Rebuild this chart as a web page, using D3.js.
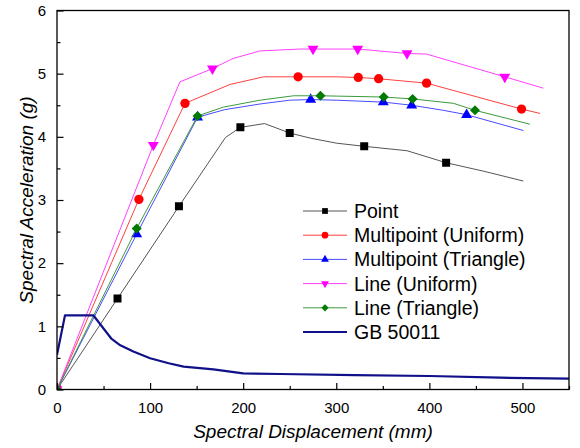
<!DOCTYPE html>
<html>
<head>
<meta charset="utf-8">
<script src="https://cdn.jsdelivr.net/npm/d3@7/dist/d3.min.js"></script>
<style>
  html, body { margin: 0; padding: 0; background: #fff; }
  svg { display: block; font-family: Arial, "Liberation Sans", sans-serif; }
</style>
</head>
<body>
<svg id="chart" width="580" height="448"></svg>
<script>
// Spectral displacement (mm) / spectral acceleration (g) curves
const pointCurve = [[0,0],[65,1.44],[131,2.90],[181,3.99],[197,4.15],[223,4.21],[250,4.06],[272,3.98],[300,3.90],[330,3.85],[376,3.78],[418,3.59],[460,3.45],[501,3.30]];
const pointMarks = [[0,0],[65,1.44],[131,2.90],[197,4.15],[250,4.06],[330,3.85],[418,3.59]];

const mpUniformCurve = [[0,0],[88,3.01],[137.5,4.53],[186,4.83],[222,4.95],[259,4.95],[300,4.95],[323.6,4.94],[345.5,4.92],[397,4.85],[499,4.44],[519,4.37]];
const mpUniformMarks = [[0,0],[88,3.01],[137.5,4.53],[259,4.95],[323.6,4.94],[345.5,4.92],[397,4.85],[499,4.44]];

const mpTriangleCurve = [[0,0],[85.6,2.46],[151,4.31],[180,4.43],[218,4.52],[250,4.58],[272.5,4.59],[300,4.58],[350.5,4.55],[381,4.50],[415,4.42],[440,4.35],[501,4.10]];
const mpTriangleMarks = [[0,0],[85.6,2.46],[151,4.31],[272.5,4.59],[350.5,4.55],[381,4.50],[440,4.35]];

const lnUniformCurve = [[0,0],[103.5,3.87],[132,4.87],[167,5.08],[189,5.24],[218,5.36],[261,5.39],[275,5.39],[323,5.39],[376,5.32],[397,5.31],[481,4.95],[522.4,4.77]];
const lnUniformMarks = [[0,0],[103.5,3.87],[167,5.08],[275,5.39],[323,5.39],[376,5.32],[481,4.95]];

const lnTriangleCurve = [[0,0],[85.6,2.55],[151,4.33],[178.6,4.47],[218,4.58],[254,4.65],[283,4.65],[351,4.63],[382,4.60],[426,4.53],[449,4.42],[508,4.20]];
const lnTriangleMarks = [[0,0],[85.6,2.55],[151,4.33],[283,4.65],[351,4.63],[382,4.60],[449,4.42]];

const gbCurve = [[0,0.55],[8.6,1.175],[39,1.175],[58.7,0.80],[68,0.70],[82,0.60],[100,0.494],[120,0.415],[136,0.361],[168,0.32],[200,0.256],[240,0.245],[320,0.229],[400,0.214],[476,0.187],[550,0.171]];

const seriesNames = ["Point","Multipoint (Uniform)","Multipoint (Triangle)","Line (Uniform)","Line (Triangle)","GB 50011"];
const xMajorTicks = [0,100,200,300,400,500];
const xMinorTicks = [50,150,250,350,450,550];
const yMajorTicks = [0,1,2,3,4,5,6];
const yMinorTicks = [0.5,1.5,2.5,3.5,4.5,5.5];

const svg = d3.select("#chart");
const L = 57, R = 569, T = 10.5, B = 389.5;
const x = d3.scaleLinear().domain([0,550]).range([L,R]);
const y = d3.scaleLinear().domain([0,6]).range([B,T]);

// clip region for the plot area
svg.append("defs").append("clipPath").attr("id","plotclip")
  .append("rect").attr("x",L).attr("y",T).attr("width",R-L).attr("height",B-T);

const series = [
  {name: seriesNames[0], curve: pointCurve, marks: pointMarks, line: "#555555", fill: "#000000", sym: "square"},
  {name: seriesNames[1], curve: mpUniformCurve, marks: mpUniformMarks, line: "#ff4040", fill: "#ff0000", sym: "circle"},
  {name: seriesNames[2], curve: mpTriangleCurve, marks: mpTriangleMarks, line: "#4a4aff", fill: "#0000ff", sym: "up"},
  {name: seriesNames[3], curve: lnUniformCurve, marks: lnUniformMarks, line: "#ff40ff", fill: "#ff00ff", sym: "down"},
  {name: seriesNames[4], curve: lnTriangleCurve, marks: lnTriangleMarks, line: "#3c9a3c", fill: "#007a00", sym: "diamond"},
  {name: seriesNames[5], curve: gbCurve, marks: [], line: "#10108a", fill: null, sym: null, width: 2.2}
];

function symbolPath(kind, scale) {
  const s = scale || 1;
  switch (kind) {
    case "square": return {d: d3.symbol(d3.symbolSquare, 64*s*s)(), rot: 0};
    case "circle": return {d: d3.symbol(d3.symbolCircle, 68*s*s)(), rot: 0};
    case "up": return {d: d3.symbol(d3.symbolTriangle, 52*s*s)(), rot: 0};
    case "down": return {d: d3.symbol(d3.symbolTriangle, 52*s*s)(), rot: 180};
    case "diamond": return {d: d3.symbol(d3.symbolSquare, 50*s*s)(), rot: 45};
  }
}

const lineGen = d3.line().x(d => x(d[0])).y(d => y(d[1]));
const plot = svg.append("g").attr("clip-path","url(#plotclip)");

series.forEach(s => {
  plot.append("path").datum(s.curve)
    .attr("d", lineGen)
    .attr("fill","none")
    .attr("stroke", s.line)
    .attr("stroke-width", s.width || 1)
    .attr("stroke-linejoin","round");
  if (s.sym) {
    const sp = symbolPath(s.sym, 1);
    plot.selectAll(null).data(s.marks).enter().append("path")
      .attr("d", sp.d)
      .attr("transform", d => `translate(${x(d[0])},${y(d[1])}) rotate(${sp.rot})`)
      .attr("fill", s.fill);
  }
});

// axes with inward ticks
const axisStyle = g => {
  g.select(".domain").remove();
  g.selectAll("line").attr("stroke","#000").attr("stroke-width",1.2);
  g.selectAll("text").attr("fill","#000").style("font-size","15px").style("font-family","Arial, 'Liberation Sans', sans-serif");
};
svg.append("g").attr("transform",`translate(0,${B})`)
  .call(d3.axisBottom(x).tickValues(xMajorTicks).tickSizeInner(-6.5).tickSizeOuter(0).tickPadding(13).tickFormat(d3.format("d")))
  .call(axisStyle);
svg.append("g").attr("transform",`translate(0,${B})`)
  .call(d3.axisBottom(x).tickValues(xMinorTicks).tickSizeInner(-3.5).tickSizeOuter(0).tickFormat(""))
  .call(axisStyle);
svg.append("g").attr("transform",`translate(${L},0)`)
  .call(d3.axisLeft(y).tickValues(yMajorTicks).tickSizeInner(-6.5).tickSizeOuter(0).tickPadding(11).tickFormat(d3.format("d")))
  .call(axisStyle);
svg.append("g").attr("transform",`translate(${L},0)`)
  .call(d3.axisLeft(y).tickValues(yMinorTicks).tickSizeInner(-3.5).tickSizeOuter(0).tickFormat(""))
  .call(axisStyle);

// frame
svg.append("rect").attr("x",L).attr("y",T).attr("width",R-L).attr("height",B-T)
  .attr("fill","none").attr("stroke","#000").attr("stroke-width",1.3);

// axis titles
svg.append("text").attr("x",(L+R)/2).attr("y",438).attr("text-anchor","middle")
  .style("font-size","19px").style("font-style","italic").text("Spectral Displacement (mm)");
svg.append("text").attr("transform",`translate(33,${(T+B)/2}) rotate(-90)`).attr("text-anchor","middle")
  .style("font-size","19px").style("font-style","italic").text("Spectral Acceleration (g)");

// legend
const lg = svg.append("g");
series.forEach((s,i) => {
  const yy = 211 + i*24.2;
  lg.append("line").attr("x1",303).attr("x2",347).attr("y1",yy).attr("y2",yy)
    .attr("stroke", s.line).attr("stroke-width", s.width || 1);
  if (s.sym) {
    const sp = symbolPath(s.sym, 0.72);
    lg.append("path").attr("d", sp.d)
      .attr("transform", `translate(325,${yy}) rotate(${sp.rot})`).attr("fill", s.fill);
  }
  lg.append("text").attr("x",354).attr("y",yy).attr("dy","0.36em")
    .style("font-size","19.5px").attr("fill","#000").text(s.name);
});
</script>
</body>
</html>
